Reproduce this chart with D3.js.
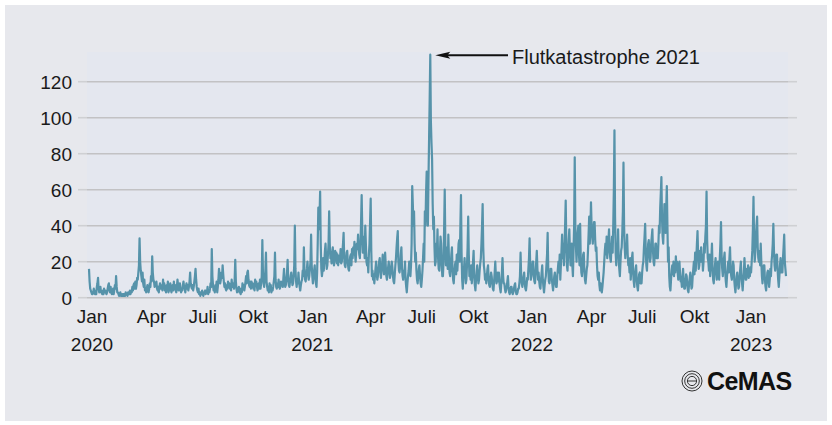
<!DOCTYPE html>
<html><head><meta charset="utf-8">
<script src="https://cdn.jsdelivr.net/npm/d3@7"></script>
<style>
html,body{margin:0;padding:0;background:#fff;}
svg{display:block;font-family:"Liberation Sans",Arial,sans-serif;}
</style>
</head><body>
<svg id="chart" width="832" height="425"></svg>
<script>
// ---- data (daily values) ----
const seriesStart = "2020-01-01";
const seriesEnd = "2023-03-04";
const mentions = [
16,9,5,4,3,2,2,3,5,3,2,4,2,6,8,11,5,3,4,6,3,3,2,4,2,5,3,4,3,2,
3,5,7,8,4,3,6,3,2,3,5,2,4,7,5,12,6,3,3,2,1,2,3,1,1,2,1,2,1,2,
1,3,2,2,1,3,3,2,4,2,4,3,6,4,7,8,5,9,5,7,11,10,14,18,33,20,15,12,9,14,
8,6,10,4,5,3,5,7,4,3,5,8,6,12,9,23,14,10,9,6,8,7,9,5,4,6,3,6,8,5,
5,7,4,10,6,8,4,6,3,7,5,9,3,5,4,8,6,3,5,7,4,9,5,7,4,3,6,10,7,4,
6,8,5,3,5,4,7,9,6,5,3,6,8,5,7,4,6,9,14,8,6,5,7,4,6,9,12,16,10,6,
4,3,5,2,3,1,3,2,4,2,1,3,3,4,2,4,3,6,2,4,3,5,8,6,27,12,7,4,6,3,
7,5,9,3,6,10,16,12,8,10,14,11,18,13,9,6,8,5,4,7,5,9,6,8,5,7,4,10,6,8,
7,5,10,21,9,5,3,5,4,6,3,5,2,4,3,8,5,7,4,6,9,12,8,14,15,10,7,6,9,5,
9,6,8,5,7,4,10,7,9,6,4,7,8,5,10,5,8,12,32,14,8,6,10,15,25,9,6,4,6,3,
8,5,7,3,5,4,6,9,12,25,10,6,5,8,6,10,7,5,6,9,7,8,6,11,16,9,6,7,10,14,
21,10,7,6,9,12,14,10,7,8,12,18,40,16,9,6,10,8,14,9,6,4,7,9,10,15,12,28,14,10,
9,13,16,20,14,10,12,16,20,35,18,12,8,12,15,18,11,8,6,14,30,50,38,45,59,30,16,12,15,22,
15,20,26,30,22,16,18,24,30,48,30,22,24,19,25,28,22,18,20,26,22,25,19,24,18,23,20,22,27,19,
20,25,30,36,22,18,17,21,25,26,20,16,15,19,23,24,18,27,22,28,24,31,24,20,26,30,27,35,28,24,
22,30,42,57,38,25,28,34,22,40,30,20,18,22,14,24,30,42,55,26,12,15,10,13,8,12,16,20,14,10,
12,16,20,22,15,11,15,19,24,18,13,16,25,18,12,10,14,17,20,15,11,13,17,20,17,12,9,8,13,18,
22,28,33,37,20,15,14,18,24,28,17,12,10,15,12,20,10,6,3,8,12,15,20,14,12,18,30,62,52,40,
48,30,20,25,15,10,8,12,16,18,12,8,6,10,15,22,30,20,48,40,58,70,52,40,65,88,110,135,98,86,
77,52,38,45,28,18,20,30,25,38,22,16,15,24,34,30,18,12,12,20,38,60,30,18,22,28,16,35,22,14,
12,18,24,28,15,10,8,14,18,20,13,24,15,22,30,32,20,40,57,25,10,5,12,16,22,14,8,10,18,28,
45,24,12,15,10,18,8,14,20,26,12,7,4,10,14,18,12,8,10,15,19,22,30,40,52,28,18,15,10,13,
8,12,16,18,10,7,6,10,14,12,8,5,4,9,14,20,12,8,10,14,9,14,8,5,3,8,14,22,12,8,
8,5,3,4,6,9,12,6,3,2,4,6,6,3,2,3,5,7,8,4,2,2,3,5,5,8,12,25,12,8,
6,9,12,14,8,5,4,7,11,10,16,22,33,18,10,12,16,20,20,12,9,8,14,20,26,16,10,14,9,6,
5,10,14,18,10,6,3,7,10,12,18,24,36,16,9,8,12,16,16,10,7,4,8,12,14,9,6,6,12,16,
20,14,24,10,18,26,35,22,30,18,28,40,54,30,18,15,24,32,38,26,18,22,30,18,12,26,40,78,40,28,
20,30,36,40,24,18,41,22,14,12,18,24,25,15,10,8,12,16,18,26,35,45,30,38,53,40,34,30,38,42,
42,32,26,28,18,12,10,14,7,4,8,5,3,6,10,14,20,26,30,24,34,22,28,32,38,26,22,20,28,34,
25,40,60,93,45,25,18,30,24,38,22,16,12,20,26,28,36,48,75,40,28,22,30,25,35,24,18,20,14,22,
10,16,22,25,14,9,6,12,16,18,10,6,4,9,13,14,8,12,8,14,18,20,28,34,41,26,18,15,24,30,
32,24,20,22,30,34,38,26,20,18,24,30,30,22,28,22,30,40,36,50,58,67,44,34,30,40,52,45,36,50,
62,40,20,28,12,6,4,10,15,18,13,20,12,18,14,23,16,20,14,10,16,20,13,9,10,6,12,16,9,5,
5,9,13,12,7,4,3,8,11,14,9,5,6,12,16,20,13,25,15,22,30,37,24,16,18,26,20,28,20,24,
15,20,30,25,34,40,59,32,22,20,15,24,12,18,22,30,16,10,8,14,18,22,15,10,14,20,16,10,22,30,
42,24,16,12,18,22,25,14,9,6,12,16,20,14,22,28,16,12,10,15,20,18,10,6,3,8,12,14,9,5,
6,12,16,20,12,8,4,10,14,22,15,10,10,16,12,18,11,15,12,17,14,20,26,38,56,32,20,25,34,40,
45,28,22,20,26,18,30,20,12,8,14,18,18,10,6,4,9,14,15,10,6,10,16,12,20,24,30,41,26,18,
15,20,24,24,16,10,6,12,18,22,14,20,14,22,28,35,20,16,12
];
const yTicks = [0,20,40,60,80,100,120];
const xTickDates = ["2020-01-06","2020-04-14","2020-07-08","2020-09-30",
                    "2021-01-06","2021-04-13","2021-07-07","2021-10-01",
                    "2022-01-06","2022-04-15","2022-07-08","2022-10-03",
                    "2023-01-05"];
const xTickLabels = ["Jan","Apr","Juli","Okt","Jan","Apr","Juli","Okt","Jan","Apr","Juli","Okt","Jan"];
const yearLabels = ["2020","","","","2021","","","","2022","","","","2023"];
const annotationDate = "2021-07-21";
const annotationValue = 135;
const annotationText = "Flutkatastrophe 2021";
const brand = "CeMAS";

// ---- layout ----
const svg = d3.select("#chart");
const parse = d3.utcParse("%Y-%m-%d");
const startD = parse(seriesStart);
const points = mentions.map((v,i)=>({date:d3.utcDay.offset(startD, i), value:v}));

const x = d3.scaleUtc().domain([startD, parse(seriesEnd)]).range([89, 786]);
const y = d3.scaleLinear().domain([0,120]).range([297.7, 81.7]);

const plotL = 87, plotR = 788;

svg.append("rect").attr("x",5).attr("y",5).attr("width",822).attr("height",416).attr("fill","#e7e8ed");
svg.append("rect").attr("x",plotL).attr("y",52).attr("width",plotR-plotL).attr("height",y(0)-52).attr("fill","#e4e7ef");

// grid
const grid = svg.append("g");
yTicks.forEach(t=>{
  grid.append("line").attr("x1",78).attr("x2",plotL).attr("y1",y(t)).attr("y2",y(t))
    .attr("stroke","#cfd0d3").attr("stroke-width",1.6);
  grid.append("line").attr("x1",plotR).attr("x2",797).attr("y1",y(t)).attr("y2",y(t))
    .attr("stroke","#cfd0d3").attr("stroke-width",1.6);
  grid.append("line").attr("x1",plotL).attr("x2",plotR).attr("y1",y(t)).attr("y2",y(t))
    .attr("stroke","#c2c2c4").attr("stroke-width",1.6);
  grid.append("text").attr("x",72).attr("y",y(t)+7).attr("text-anchor","end")
    .attr("font-size",19).attr("fill","#1a1a1a").text(t);
});

// x labels
const xl = svg.append("g");
xTickDates.forEach((d,i)=>{
  const px = x(parse(d));
  xl.append("text").attr("x",px).attr("y",323).attr("text-anchor","middle")
    .attr("font-size",19).attr("fill","#1a1a1a").text(xTickLabels[i]);
  if (yearLabels[i]) xl.append("text").attr("x",px).attr("y",350.5).attr("text-anchor","middle")
    .attr("font-size",19).attr("fill","#1a1a1a").text(yearLabels[i]);
});

// line
const line = d3.line().x(d=>x(d.date)).y(d=>y(d.value)).curve(d3.curveLinear);
svg.append("path").datum(points).attr("d",line).attr("fill","none")
  .attr("stroke","#5693aa").attr("stroke-width",2.2).attr("stroke-linejoin","round");

// annotation
const ax = x(parse(annotationDate)) + 5, ay = y(annotationValue) + 0.5;
svg.append("line").attr("x1",ax+10).attr("x2",508).attr("y1",ay).attr("y2",ay)
  .attr("stroke","#111").attr("stroke-width",2);
svg.append("path").attr("d",`M${ax},${ay} L${ax+15},${ay-3.5} L${ax+12},${ay} L${ax+15},${ay+3.5} Z`).attr("fill","#111");
svg.append("text").attr("x",512).attr("y",ay+8.5).attr("font-size",20).attr("fill","#1a1a1a").text(annotationText);

// logo
const lg = svg.append("g").attr("transform","translate(692,381)");
[10,7.3,4.6].forEach(r=>lg.append("circle").attr("r",r).attr("fill","none").attr("stroke","#333").attr("stroke-width",1));
lg.append("line").attr("x1",-4.6).attr("x2",4.6).attr("y1",0).attr("y2",0).attr("stroke","#333").attr("stroke-width",1);
svg.append("text").attr("x",707).attr("y",390).attr("font-size",25).attr("font-weight","bold")
  .attr("letter-spacing",-0.6).attr("fill","#111").text(brand);
</script>
</body></html>
